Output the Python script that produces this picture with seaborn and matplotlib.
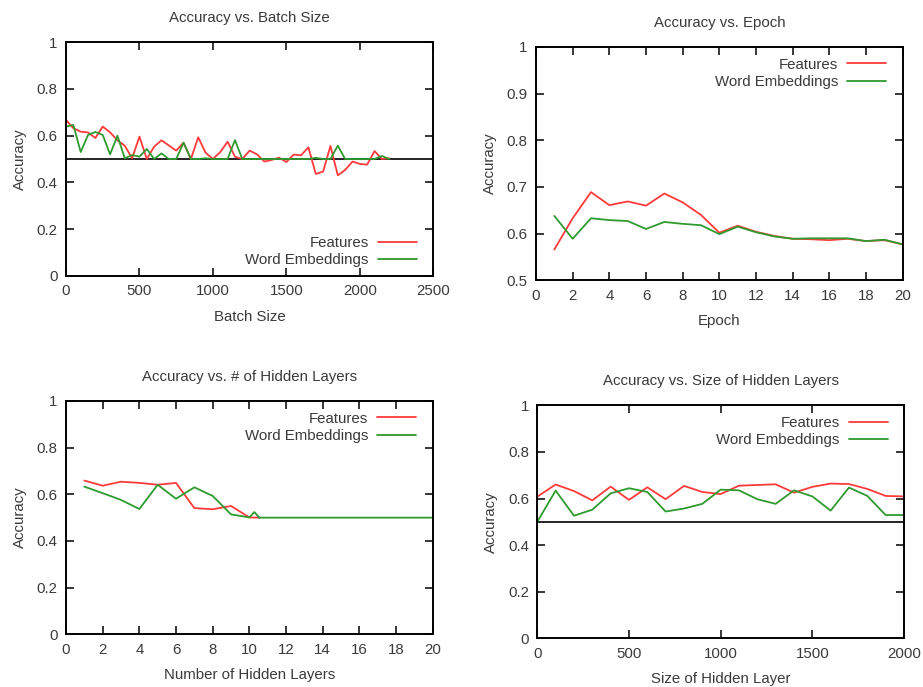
import matplotlib
matplotlib.use("Agg")
import matplotlib.pyplot as plt
import seaborn as sns
import pandas as pd
from matplotlib.ticker import FuncFormatter

# ---------------- data ----------------
batch_x = [0, 50, 100, 150, 200, 250, 300, 350, 400, 450, 500, 550, 600, 650, 700,
           750, 800, 850, 900, 950, 1000, 1050, 1100, 1150, 1200, 1250, 1300, 1350,
           1400, 1450, 1500, 1550, 1600, 1650, 1700, 1750, 1800, 1850, 1900, 1950,
           2000, 2050, 2100, 2150, 2200]
batch_features = [0.667, 0.632, 0.617, 0.614, 0.590, 0.639, 0.614, 0.580, 0.557, 0.503,
                  0.596, 0.500, 0.553, 0.580, 0.558, 0.536, 0.570, 0.500, 0.593, 0.527,
                  0.500, 0.530, 0.574, 0.510, 0.500, 0.536, 0.520, 0.489, 0.496, 0.506,
                  0.487, 0.519, 0.516, 0.550, 0.436, 0.446, 0.556, 0.430, 0.453, 0.489,
                  0.479, 0.476, 0.534, 0.500, 0.503]
batch_embed = [0.639, 0.646, 0.530, 0.603, 0.616, 0.603, 0.520, 0.600, 0.503, 0.517,
               0.510, 0.543, 0.500, 0.524, 0.500, 0.500, 0.570, 0.500, 0.500, 0.503,
               0.500, 0.500, 0.500, 0.581, 0.500, 0.500, 0.500, 0.500, 0.500, 0.500,
               0.500, 0.500, 0.500, 0.500, 0.505, 0.500, 0.500, 0.557, 0.500, 0.500,
               0.500, 0.500, 0.500, 0.513, 0.500]

epoch_x = list(range(1, 21))
epoch_features = [0.566, 0.633, 0.689, 0.661, 0.669, 0.660, 0.686, 0.667, 0.640, 0.602,
                  0.617, 0.604, 0.595, 0.589, 0.588, 0.586, 0.589, 0.584, 0.586, 0.577]
epoch_embed = [0.638, 0.589, 0.633, 0.629, 0.627, 0.610, 0.625, 0.621, 0.618, 0.599,
               0.615, 0.603, 0.594, 0.589, 0.590, 0.590, 0.590, 0.584, 0.587, 0.577]

layers_x_features = [1, 2, 3, 4, 5, 6, 7, 8, 9, 10, 10.55]
layers_features = [0.659, 0.637, 0.654, 0.649, 0.641, 0.649, 0.541, 0.536, 0.550, 0.501,
                   0.500]
layers_x_embed = [1, 2, 3, 4, 5, 6, 7, 8, 9, 10, 10.27, 10.55, 20]
layers_embed = [0.633, 0.605, 0.576, 0.537, 0.641, 0.581, 0.630, 0.593, 0.514, 0.501,
                0.524, 0.500, 0.500]

size_x = [0, 100, 200, 300, 400, 500, 600, 700, 800, 900, 1000, 1100, 1200, 1300,
          1400, 1500, 1600, 1700, 1800, 1900, 2000]
size_features = [0.608, 0.660, 0.632, 0.592, 0.651, 0.594, 0.648, 0.597, 0.654, 0.628,
                 0.619, 0.655, 0.658, 0.661, 0.625, 0.650, 0.664, 0.662, 0.641, 0.611,
                 0.609]
size_embed = [0.500, 0.634, 0.526, 0.552, 0.622, 0.644, 0.628, 0.544, 0.557, 0.577,
              0.638, 0.635, 0.597, 0.577, 0.635, 0.609, 0.548, 0.647, 0.611, 0.529,
              0.529]

titles = ["Accuracy vs. Batch Size", "Accuracy vs. Epoch",
          "Accuracy vs. # of Hidden Layers", "Accuracy vs. Size of Hidden Layers"]
xlabels = ["Batch Size", "Epoch", "Number of Hidden Layers", "Size of Hidden Layer"]
series_names = ["Features", "Word Embeddings"]

# ---------------- style ----------------
sns.set_theme(style="white")
plt.rcParams["font.family"] = ["Liberation Sans", "DejaVu Sans"]
TXT = "#3a3a3a"
RED = "#ff3a3a"
GREEN = "#2f9a2f"
FS = 10.8

fig = plt.figure(figsize=(9.23, 6.87), dpi=100)

positions = [
    [66 / 923, 1 - 275.7 / 687, 367.3 / 923, 233.4 / 687],
    [536 / 923, 1 - 280.3 / 687, 366.7 / 923, 233.3 / 687],
    [66 / 923, 1 - 634.3 / 687, 366.7 / 923, 233.3 / 687],
    [537.3 / 923, 1 - 638.3 / 687, 366.7 / 923, 233.0 / 687],
]

panels = [
    (batch_x, batch_features, batch_x, batch_embed),
    (epoch_x, epoch_features, epoch_x, epoch_embed),
    (layers_x_features, layers_features, layers_x_embed, layers_embed),
    (size_x, size_features, size_x, size_embed),
]
xlims = [(0, 2500), (0, 20), (0, 20), (0, 2000)]
xticks = [range(0, 2501, 500), range(0, 21, 2), range(0, 21, 2), range(0, 2001, 500)]
ylims = [(0, 1), (0.5, 1), (0, 1), (0, 1)]
yticks = [[0, 0.2, 0.4, 0.6, 0.8, 1], [0.5, 0.6, 0.7, 0.8, 0.9, 1],
          [0, 0.2, 0.4, 0.6, 0.8, 1], [0, 0.2, 0.4, 0.6, 0.8, 1]]
baseline = [True, False, False, True]
legend_lower = [True, False, False, False]

fmt = FuncFormatter(lambda v, p: "{:g}".format(round(v, 3)))

for i, ax_pos in enumerate(positions):
    ax = fig.add_axes(ax_pos)
    fx, fy, ex, ey = panels[i]
    if baseline[i]:
        ax.axhline(0.5, color="black", lw=1.2, zorder=1)
    df_f = pd.DataFrame({"x": fx, "y": fy, "s": series_names[0]})
    df_e = pd.DataFrame({"x": ex, "y": ey, "s": series_names[1]})
    df = pd.concat([df_f, df_e], ignore_index=True)
    sns.lineplot(data=df, x="x", y="y", hue="s", palette=[RED, GREEN],
                 linewidth=1.3, ax=ax, sort=False, estimator=None, zorder=2)
    ax.set_xlim(*xlims[i])
    ax.set_ylim(*ylims[i])
    ax.set_xticks(list(xticks[i]))
    ax.set_yticks(yticks[i])
    ax.xaxis.set_major_formatter(fmt)
    ax.yaxis.set_major_formatter(fmt)
    ax.tick_params(direction="in", length=5.8, width=1.1, color="black",
                   top=True, right=True, bottom=True, left=True,
                   labelsize=FS, labelcolor=TXT, pad=6)
    for sp in ax.spines.values():
        sp.set_visible(True)
        sp.set_color("black")
        sp.set_linewidth(1.4)
    ax.set_title(titles[i], fontsize=FS, color=TXT, pad=14.5)
    ax.set_xlabel(xlabels[i], fontsize=FS, color=TXT, labelpad=8.5)
    ax.set_ylabel("Accuracy", fontsize=FS, color=TXT, labelpad=7)
    handles, labels = ax.get_legend_handles_labels()
    if legend_lower[i]:
        leg = ax.legend(handles, labels, loc="lower right",
                        bbox_to_anchor=(1 - 16.5 / 367, 8.5 / 233), borderaxespad=0,
                        borderpad=0, frameon=False, markerfirst=False,
                        fontsize=FS, handlelength=2.6, handletextpad=0.6,
                        labelspacing=0.22)
    else:
        leg = ax.legend(handles, labels, loc="upper right",
                        bbox_to_anchor=(1 - 16.5 / 367, 1 - 10.5 / 233), borderaxespad=0,
                        borderpad=0, frameon=False, markerfirst=False,
                        fontsize=FS, handlelength=2.6, handletextpad=0.6,
                        labelspacing=0.22)
    for t in leg.get_texts():
        t.set_color(TXT)
    for h in leg.get_lines():
        h.set_linewidth(1.3)

fig.savefig("out.png", dpi=100, facecolor="white")
